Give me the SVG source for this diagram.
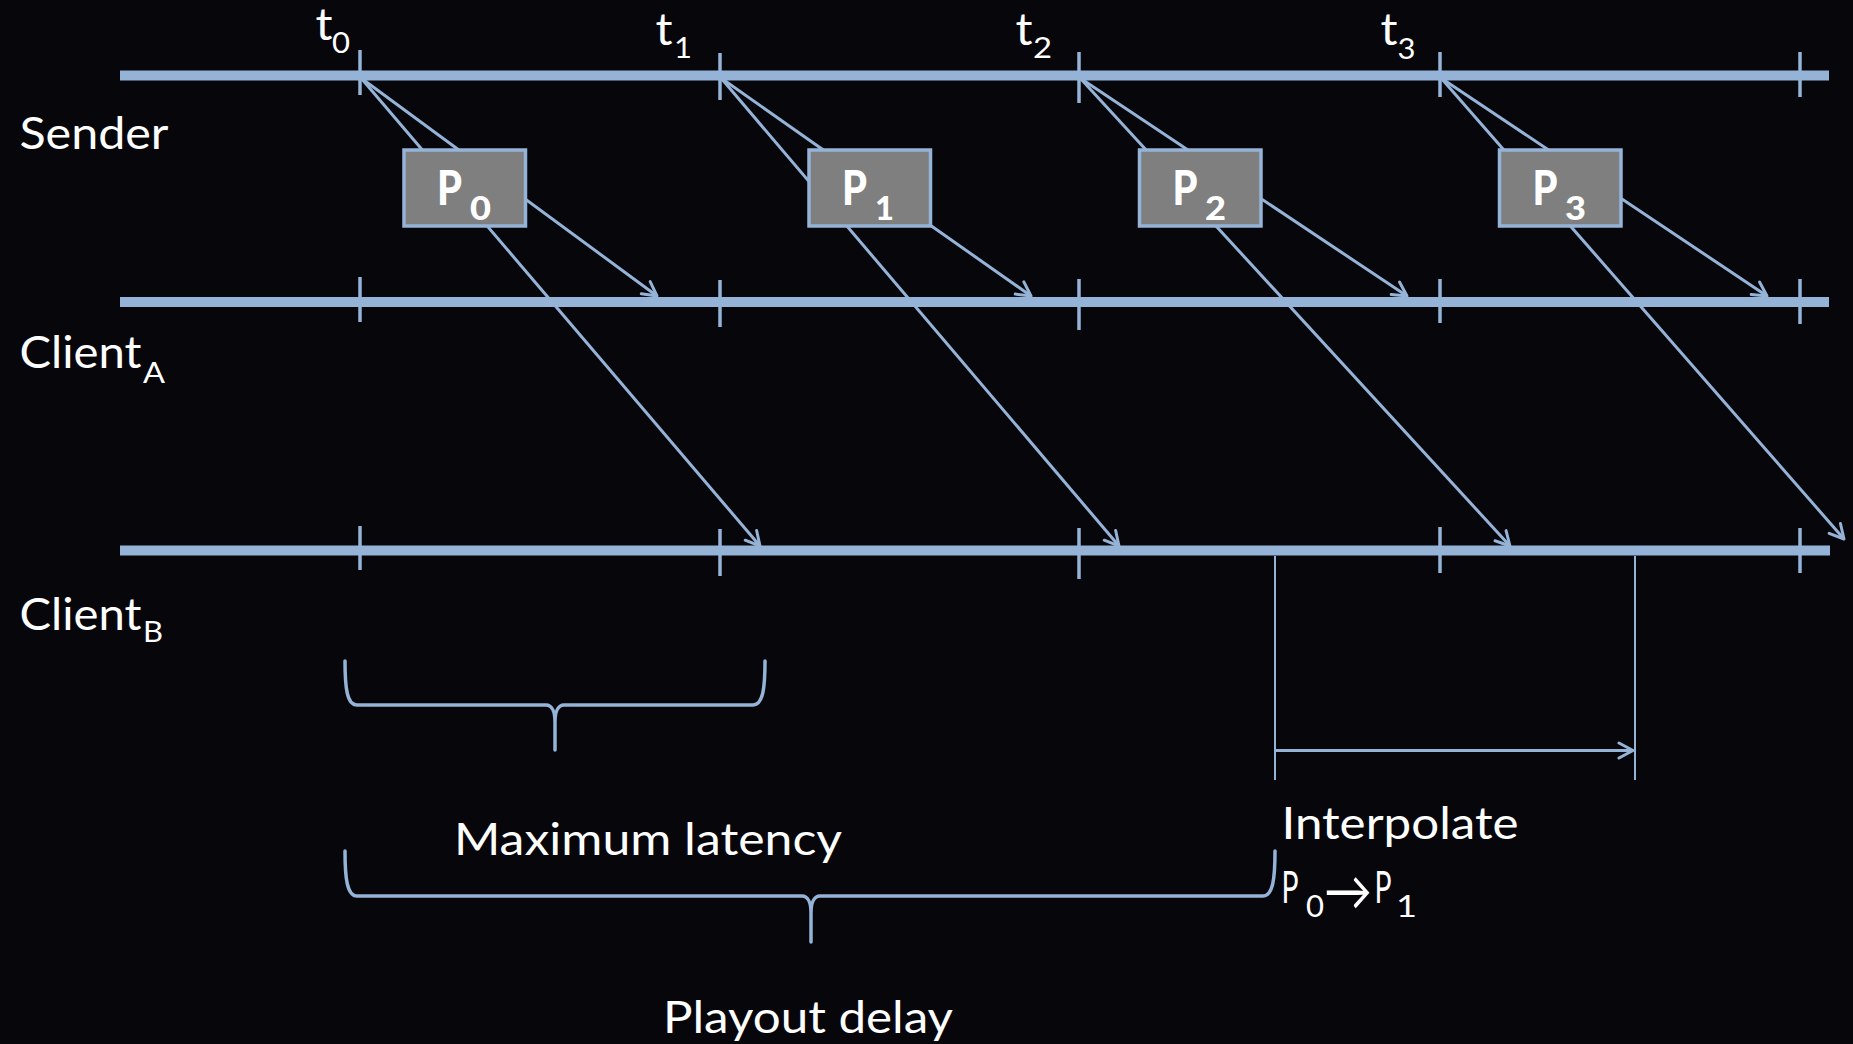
<svg xmlns="http://www.w3.org/2000/svg" width="1853" height="1044" viewBox="0 0 1853 1044">
<defs>
<style>
.axis{stroke:#95B3D7;stroke-width:10;fill:none}
.tick{stroke:#95B3D7;stroke-width:3.5;fill:none}
.pkt{stroke:#95B3D7;stroke-width:3;fill:none}
.thin{stroke:#95B3D7;stroke-width:2;fill:none}
.brace{stroke:#95B3D7;stroke-width:3.5;fill:none;stroke-linecap:round;stroke-linejoin:round}
.box{fill:#7F7F7F;stroke:#95B3D7;stroke-width:3.5}
.lbl{fill:#FFFFFF;font-family:Lato,'Open Sans',sans-serif;font-size:45px}
.sub{font-size:28px}
.bl{fill:#FFFFFF;font-family:Lato,'Open Sans',sans-serif;font-weight:900;font-size:47px}
.bsub{font-size:32px}
</style>
<marker id="arr" viewBox="0 0 20 20" refX="17" refY="10" markerWidth="20" markerHeight="20" markerUnits="userSpaceOnUse" orient="auto">
<path d="M3,2.5 L17,10 L3,17.5" fill="none" stroke="#95B3D7" stroke-width="3" stroke-linecap="round" stroke-linejoin="round"/>
</marker>
</defs>
<rect x="0" y="0" width="1853" height="1044" fill="#06060B"/>

<g id="timelines">
<line class="axis" x1="120" y1="75.5" x2="1829" y2="75.5"/>
<line class="axis" x1="120" y1="302" x2="1829" y2="302"/>
<line class="axis" x1="120" y1="550.5" x2="1830" y2="550.5"/>
<line class="tick" x1="360" y1="50" x2="360" y2="95"/>
<line class="tick" x1="720" y1="53" x2="720" y2="100"/>
<line class="tick" x1="1079" y1="52" x2="1079" y2="103"/>
<line class="tick" x1="1440" y1="52" x2="1440" y2="97"/>
<line class="tick" x1="1800" y1="52" x2="1800" y2="97"/>
<line class="tick" x1="360" y1="277" x2="360" y2="322"/>
<line class="tick" x1="720" y1="280" x2="720" y2="327"/>
<line class="tick" x1="1079" y1="279" x2="1079" y2="330"/>
<line class="tick" x1="1440" y1="279" x2="1440" y2="323"/>
<line class="tick" x1="1800" y1="279" x2="1800" y2="324"/>
<line class="tick" x1="360" y1="526" x2="360" y2="570"/>
<line class="tick" x1="720" y1="529" x2="720" y2="576"/>
<line class="tick" x1="1079" y1="528" x2="1079" y2="579"/>
<line class="tick" x1="1440" y1="527" x2="1440" y2="573"/>
<line class="tick" x1="1800" y1="528" x2="1800" y2="573"/>
</g>

<g id="connectors">
<line class="pkt" x1="361" y1="78" x2="657" y2="296" marker-end="url(#arr)"/>
<line class="pkt" x1="361" y1="78" x2="760" y2="546" marker-end="url(#arr)"/>
<line class="pkt" x1="721" y1="78" x2="1031" y2="296" marker-end="url(#arr)"/>
<line class="pkt" x1="721" y1="78" x2="1119" y2="546" marker-end="url(#arr)"/>
<line class="pkt" x1="1080" y1="78" x2="1407" y2="296" marker-end="url(#arr)"/>
<line class="pkt" x1="1080" y1="78" x2="1510" y2="546" marker-end="url(#arr)"/>
<line class="pkt" x1="1441" y1="78" x2="1767" y2="296" marker-end="url(#arr)"/>
<line class="pkt" x1="1441" y1="78" x2="1844" y2="539" marker-end="url(#arr)"/>
<line class="thin" x1="1275" y1="556" x2="1275" y2="780"/>
<line class="thin" x1="1635" y1="556" x2="1635" y2="780"/>
<line class="pkt" x1="1275" y1="750.5" x2="1633" y2="750.5" marker-end="url(#arr)"/>
<path class="brace" d="M345,661 C345,688 347,705 357,705 L546,705 C552,705 555,712 555,722 L555,750 M555,722 C555,712 558,705 564,705 L753,705 C763,705 765,688 765,661"/>
<path class="brace" d="M345,851 C345,878 347,896 357,896 L802,896 C808,896 811,903 811,913 L811,942 M811,913 C811,903 814,896 820,896 L1263,896 C1273,896 1275,878 1275,851"/>
</g>

<g id="node-p0">
<rect class="box" x="404" y="150" width="121.5" height="76"/>
<text class="bl"><tspan x="437" y="205" textLength="25" lengthAdjust="spacingAndGlyphs">P</tspan><tspan class="bsub" x="470" y="219.5" textLength="21" lengthAdjust="spacingAndGlyphs">0</tspan></text>
</g>
<g id="node-p1">
<rect class="box" x="809" y="150" width="121.5" height="76"/>
<text class="bl"><tspan x="842" y="205" textLength="25" lengthAdjust="spacingAndGlyphs">P</tspan><tspan class="bsub" x="875" y="219.5" textLength="19" lengthAdjust="spacingAndGlyphs">1</tspan></text>
</g>
<g id="node-p2">
<rect class="box" x="1139.5" y="150" width="121.5" height="76"/>
<text class="bl"><tspan x="1172.5" y="205" textLength="25" lengthAdjust="spacingAndGlyphs">P</tspan><tspan class="bsub" x="1205" y="219.5" textLength="21" lengthAdjust="spacingAndGlyphs">2</tspan></text>
</g>
<g id="node-p3">
<rect class="box" x="1499.5" y="150" width="121.5" height="76"/>
<text class="bl"><tspan x="1532.5" y="205" textLength="25" lengthAdjust="spacingAndGlyphs">P</tspan><tspan class="bsub" x="1565" y="219.5" textLength="21" lengthAdjust="spacingAndGlyphs">3</tspan></text>
</g>

<g id="labels">
<text class="lbl" x="19.5" y="148.5" textLength="149" lengthAdjust="spacingAndGlyphs">Sender</text>
<text class="lbl"><tspan x="19.5" y="368" textLength="122" lengthAdjust="spacingAndGlyphs">Client</tspan><tspan class="sub" x="143" y="383.3" textLength="22" lengthAdjust="spacingAndGlyphs">A</tspan></text>
<text class="lbl"><tspan x="19.5" y="630" textLength="122" lengthAdjust="spacingAndGlyphs">Client</tspan><tspan class="sub" x="143" y="641.7" textLength="20" lengthAdjust="spacingAndGlyphs">B</tspan></text>
<text class="lbl"><tspan x="315.5" y="40" textLength="17" lengthAdjust="spacingAndGlyphs">t</tspan><tspan class="sub" x="332" y="53.3" textLength="18" lengthAdjust="spacingAndGlyphs">0</tspan></text>
<text class="lbl"><tspan x="655.5" y="45" textLength="17" lengthAdjust="spacingAndGlyphs">t</tspan><tspan class="sub" x="674" y="58.3" textLength="18" lengthAdjust="spacingAndGlyphs">1</tspan></text>
<text class="lbl"><tspan x="1015.5" y="45" textLength="17" lengthAdjust="spacingAndGlyphs">t</tspan><tspan class="sub" x="1033" y="58" textLength="19" lengthAdjust="spacingAndGlyphs">2</tspan></text>
<text class="lbl"><tspan x="1380.5" y="45" textLength="17" lengthAdjust="spacingAndGlyphs">t</tspan><tspan class="sub" x="1397.5" y="59" textLength="18" lengthAdjust="spacingAndGlyphs">3</tspan></text>
<text class="lbl" x="454" y="855" textLength="388" lengthAdjust="spacingAndGlyphs">Maximum latency</text>
<text class="lbl" x="1281.5" y="839.3" textLength="237" lengthAdjust="spacingAndGlyphs">Interpolate</text>
<text class="lbl"><tspan x="1281.5" y="903.3" textLength="17" lengthAdjust="spacingAndGlyphs">P</tspan><tspan x="1306" y="916.7" font-size="30" textLength="18" lengthAdjust="spacingAndGlyphs">0</tspan><tspan x="1324" y="910" font-size="54" textLength="48" lengthAdjust="spacingAndGlyphs">→</tspan><tspan x="1374.5" y="903.3" textLength="17" lengthAdjust="spacingAndGlyphs">P</tspan><tspan x="1396" y="916.7" font-size="30" textLength="21" lengthAdjust="spacingAndGlyphs">1</tspan></text>
<text class="lbl" x="663" y="1033" textLength="290" lengthAdjust="spacingAndGlyphs">Playout delay</text>
</g>
</svg>
